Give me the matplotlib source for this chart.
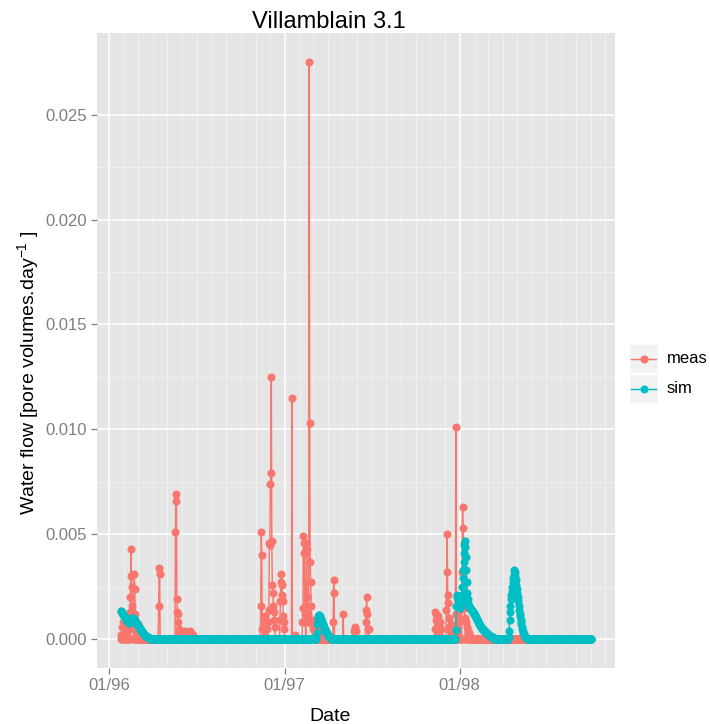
import matplotlib
matplotlib.use("Agg")
import matplotlib.pyplot as plt
import matplotlib.dates as mdates
from matplotlib.patches import Rectangle
from matplotlib.lines import Line2D
import pandas as pd

plt.rcParams['font.family'] = ['Liberation Sans', 'DejaVu Sans']
plt.rcParams['mathtext.fontset'] = 'custom'
plt.rcParams['mathtext.rm'] = 'Liberation Sans'
plt.rcParams['mathtext.it'] = 'Liberation Sans:italic'

# ---- data -------------------------------------------------------------
first_day = "1996-01-25"
last_day = "1998-10-03"

# measured daily flow (days not listed are zero)
meas_dates = [
    "1996-01-25", "1996-01-27", "1996-01-29", "1996-01-31", "1996-02-02", "1996-02-04",
    "1996-02-07", "1996-02-10", "1996-02-13", "1996-02-14", "1996-02-15", "1996-02-16",
    "1996-02-17", "1996-02-18", "1996-02-19", "1996-02-22", "1996-02-23", "1996-02-24",
    "1996-02-25", "1996-02-28", "1996-03-01", "1996-03-03", "1996-03-05",
    "1996-04-13", "1996-04-14", "1996-04-15",
    "1996-05-18", "1996-05-19", "1996-05-20", "1996-05-21", "1996-05-22", "1996-05-23",
    "1996-05-24", "1996-05-25", "1996-05-26",
    "1996-06-03", "1996-06-05", "1996-06-07", "1996-06-09", "1996-06-12", "1996-06-15",
    "1996-06-18", "1996-06-20", "1996-06-23",
    "1996-11-12", "1996-11-13", "1996-11-14", "1996-11-15", "1996-11-18", "1996-11-20",
    "1996-11-22", "1996-11-24", "1996-11-28", "1996-11-29", "1996-11-30", "1996-12-01",
    "1996-12-02", "1996-12-03", "1996-12-04", "1996-12-05", "1996-12-06", "1996-12-07",
    "1996-12-08", "1996-12-09", "1996-12-10", "1996-12-11",
    "1996-12-22", "1996-12-23", "1996-12-24", "1996-12-25", "1996-12-26", "1996-12-27",
    "1996-12-28", "1996-12-29", "1996-12-30", "1996-12-31",
    "1997-01-16", "1997-01-22",
    "1997-02-07", "1997-02-08", "1997-02-09", "1997-02-10", "1997-02-11", "1997-02-12",
    "1997-02-13", "1997-02-15", "1997-02-16", "1997-02-17", "1997-02-18", "1997-02-19",
    "1997-02-20", "1997-02-21", "1997-02-22", "1997-02-23", "1997-02-24", "1997-02-25",
    "1997-02-26", "1997-02-27", "1997-03-01", "1997-03-03", "1997-03-05", "1997-03-08",
    "1997-03-12", "1997-03-15",
    "1997-04-12", "1997-04-13", "1997-04-14", "1997-05-03",
    "1997-05-25", "1997-05-27", "1997-05-29",
    "1997-06-19", "1997-06-20", "1997-06-21", "1997-06-22", "1997-06-23", "1997-06-25",
    "1997-11-10", "1997-11-11", "1997-11-12", "1997-11-13", "1997-11-14", "1997-11-16",
    "1997-11-17", "1997-11-19", "1997-11-21", "1997-11-22",
    "1997-12-04", "1997-12-05", "1997-12-06", "1997-12-07", "1997-12-08", "1997-12-09",
    "1997-12-10", "1997-12-12", "1997-12-14", "1997-12-16",
    "1997-12-24", "1997-12-25", "1997-12-27", "1997-12-29", "1997-12-31",
    "1998-01-02", "1998-01-04", "1998-01-06", "1998-01-07", "1998-01-08", "1998-01-09",
    "1998-01-10", "1998-01-11", "1998-01-12", "1998-01-14", "1998-01-16", "1998-01-18",
    "1998-01-20",
]
meas_values = [
    0.0002, 0.0006, 0.0008, 0.0005, 0.0007, 0.0003,
    0.0002, 0.0005, 0.0013, 0.0020, 0.0043, 0.0030,
    0.0025, 0.0016, 0.0006, 0.0031, 0.0024, 0.0012,
    0.0005, 0.0004, 0.0007, 0.0005, 0.0002,
    0.0016, 0.0034, 0.0031,
    0.0051, 0.0069, 0.0066, 0.0019, 0.0013, 0.0012,
    0.0008, 0.0005, 0.0003,
    0.0002, 0.0003, 0.0004, 0.0003, 0.0002, 0.0003,
    0.0004, 0.0003, 0.0002,
    0.0016, 0.0051, 0.0040, 0.0005, 0.0006, 0.0011,
    0.0008, 0.0005, 0.0008, 0.0014, 0.0046, 0.0045,
    0.0074, 0.0079, 0.0125, 0.0047, 0.0026, 0.0022,
    0.0016, 0.0013, 0.0009, 0.0006,
    0.0009, 0.0018, 0.0031, 0.0027, 0.0026, 0.0021,
    0.0018, 0.0011, 0.0008, 0.0005,
    0.0115, 0.0002,
    0.0008, 0.0015, 0.0049, 0.0046, 0.0041, 0.0012,
    0.0008, 0.0046, 0.0043, 0.0020, 0.0012, 0.0008,
    0.0009, 0.0275, 0.0103, 0.0037, 0.0027, 0.0016,
    0.0009, 0.0007, 0.0005, 0.0006, 0.0004, 0.0003,
    0.0004, 0.0003,
    0.0008, 0.0028, 0.0022, 0.0012,
    0.0004, 0.0006, 0.0004,
    0.0008, 0.0014, 0.0020, 0.0012, 0.0005, 0.0005,
    0.0005, 0.0013, 0.0012, 0.0009, 0.0004, 0.0011,
    0.0007, 0.0003, 0.0008, 0.0005,
    0.0014, 0.0032, 0.0050, 0.0021, 0.0017, 0.0010,
    0.0006, 0.0004, 0.0007, 0.0004,
    0.0101, 0.0012, 0.0012, 0.0018, 0.0008,
    0.0014, 0.0009, 0.0032, 0.0063, 0.0053, 0.0046,
    0.0020, 0.0015, 0.0010, 0.0008, 0.0006, 0.0004,
    0.0003,
]

# simulated daily flow: consecutive days from each start date (zero elsewhere)
sim_1996_start = "1996-01-25"
sim_1996 = [
    0.00136, 0.00132, 0.00128, 0.00124, 0.00120, 0.00116, 0.00112, 0.00108, 0.00104,
    0.00100, 0.00096, 0.00092, 0.00089, 0.00086, 0.00083, 0.00080, 0.00077,
    0.00078, 0.00080, 0.00083, 0.00087, 0.00091, 0.00095, 0.00098, 0.00100, 0.00101,
    0.00100, 0.00097, 0.00094, 0.00090, 0.00086, 0.00082, 0.00078, 0.00074, 0.00070,
    0.00066, 0.00062, 0.00058, 0.00055, 0.00052, 0.00049, 0.00046, 0.00043, 0.00040,
    0.00037, 0.00034, 0.00031, 0.00028, 0.00025, 0.00022, 0.00020, 0.00018, 0.00016,
    0.00014, 0.00012, 0.00010, 0.00008, 0.00007, 0.00006, 0.00005, 0.00004, 0.00003,
    0.00002, 0.00001,
]
sim_1997_start = "1997-03-08"
sim_1997 = [
    0.00005, 0.00030, 0.00070, 0.00100, 0.00112, 0.00116, 0.00113, 0.00108, 0.00102,
    0.00096, 0.00090, 0.00084, 0.00078, 0.00072, 0.00066, 0.00060, 0.00055, 0.00050,
    0.00045, 0.00040, 0.00036, 0.00032, 0.00028, 0.00024, 0.00020, 0.00017, 0.00014,
    0.00011, 0.00008, 0.00006, 0.00004, 0.00002, 0.00001,
]
sim_1998a_start = "1997-12-24"
sim_1998a = [
    0.00044, 0.00160, 0.00200, 0.00210, 0.00200, 0.00190, 0.00180, 0.00170, 0.00160,
    0.00150, 0.00160, 0.00180, 0.00210, 0.00250, 0.00290, 0.00330, 0.00370, 0.00410,
    0.00450, 0.00470, 0.00440, 0.00390, 0.00330, 0.00270, 0.00220, 0.00190, 0.00170,
    0.00158, 0.00154, 0.00150, 0.00147, 0.00144, 0.00141, 0.00138, 0.00135,
    0.00131, 0.00127, 0.00123, 0.00119, 0.00115, 0.00112, 0.00109,
    0.00104, 0.00099, 0.00094, 0.00089, 0.00085, 0.00080, 0.00076,
    0.00072, 0.00068, 0.00064, 0.00060, 0.00057, 0.00053, 0.00050,
    0.00047, 0.00045, 0.00042, 0.00040, 0.00037, 0.00035, 0.00033,
    0.00031, 0.00029, 0.00027, 0.00025, 0.00023, 0.00021, 0.00020,
    0.00018, 0.00017, 0.00015, 0.00014, 0.00012, 0.00011, 0.00010,
    0.00008, 0.00006, 0.00005, 0.00003, 0.00002, 0.00001,
]
sim_1998b_start = "1998-04-13"
sim_1998b = [
    0.00010, 0.00040, 0.00090, 0.00130, 0.00160, 0.00190, 0.00210, 0.00230, 0.00250,
    0.00270, 0.00290, 0.00310, 0.00330, 0.00320, 0.00300, 0.00280, 0.00260, 0.00240,
    0.00220, 0.00200, 0.00180, 0.00160, 0.00140, 0.00120, 0.00110, 0.00090, 0.00080,
    0.00070, 0.00060, 0.00050, 0.00040, 0.00030, 0.00025, 0.00020, 0.00015, 0.00010,
    0.00007, 0.00005, 0.00003, 0.00001,
]

series_labels = ["meas", "sim"]
series_colors = ["#F8766D", "#00BFC4"]

# ---- assemble daily series ---------------------------------------------
days = pd.date_range(first_day, last_day, freq="D")
meas = pd.Series(meas_values, index=pd.to_datetime(meas_dates)).reindex(days, fill_value=0.0)

sim = pd.Series(0.0, index=days)
for start, vals in [(sim_1996_start, sim_1996), (sim_1997_start, sim_1997),
                    (sim_1998a_start, sim_1998a), (sim_1998b_start, sim_1998b)]:
    idx = pd.date_range(start, periods=len(vals), freq="D")
    sim.loc[idx] = vals

# ---- figure -------------------------------------------------------------
W, H = 710, 724
fig = plt.figure(figsize=(W / 100, H / 100), dpi=100)
fig.patch.set_facecolor("white")

px_l, px_r, px_t, px_b = 97.3, 615.0, 33.3, 668.0
ax = fig.add_axes([px_l / W, 1 - px_b / H, (px_r - px_l) / W, (px_b - px_t) / H])
ax.set_facecolor("#E5E5E5")
for s in ax.spines.values():
    s.set_visible(False)

MS = 5.8
LW = 1.05
ax.plot(meas.index, meas.values, color=series_colors[0], lw=LW, marker="o",
        ms=MS, mew=0, zorder=3)
ax.plot(sim.index, sim.values, color=series_colors[1], lw=LW, marker="o",
        ms=MS, mew=0, zorder=4)

# ggplot-like expansion of 5% on both axes
t0, t1 = mdates.date2num(days[0]), mdates.date2num(days[-1])
span = t1 - t0
ax.set_xlim(t0 - 0.05 * span, t1 + 0.05 * span)
ymax = max(meas.max(), sim.max())
ax.set_ylim(-0.05 * ymax, 1.05 * ymax)

ax.xaxis.set_major_locator(mdates.YearLocator())
ax.xaxis.set_major_formatter(mdates.DateFormatter("%m/%y"))
ax.xaxis.set_minor_locator(mdates.MonthLocator())
ax.set_yticks([0, 0.005, 0.010, 0.015, 0.020, 0.025])
ax.set_yticklabels(["0.000", "0.005", "0.010", "0.015", "0.020", "0.025"])
ax.set_yticks([0.0025, 0.0075, 0.0125, 0.0175, 0.0225], minor=True)

ax.grid(which="major", color="white", lw=1.1)
ax.grid(which="minor", color="#F2F2F2", lw=0.6)
ax.set_axisbelow(True)
ax.tick_params(which="major", length=4.2, width=0.9, color="#7F7F7F",
               labelcolor="#7F7F7F", labelsize=12, pad=3)
ax.tick_params(which="minor", length=0)

# titles
fig.text(329 / W, 1 - 28 / H, "Villamblain 3.1", ha="center", va="baseline",
         fontsize=17, color="black")
fig.text(330 / W, 1 - 721 / H, "Date", ha="center", va="baseline",
         fontsize=14, color="black")
fig.text(28 / W, 1 - 373 / H, r"Water flow [pore volumes.day$^{-1}$ ]",
         ha="center", va="center", rotation=90, fontsize=14, color="black")

# legend keys
key_l, key_r = 629.3, 658.3
key_tops = [344.3, 374.3]
key_h = 29.0
for lab, col, top in zip(series_labels, series_colors, key_tops):
    fig.add_artist(Rectangle((key_l / W, 1 - (top + key_h) / H), (key_r - key_l) / W,
                             key_h / H, transform=fig.transFigure, facecolor="#F2F2F2",
                             edgecolor="white", lw=1.0))
    yc = 1 - (top + key_h / 2) / H
    fig.add_artist(Line2D([(key_l + 2) / W, (key_r - 2) / W], [yc, yc],
                          transform=fig.transFigure, color=col, lw=LW))
    fig.add_artist(Line2D([(key_l + key_r) / 2 / W], [yc], transform=fig.transFigure,
                          color=col, marker="o", ms=MS, mew=0, lw=0))
    fig.text(666.5 / W, yc, lab, ha="left", va="center", fontsize=12, color="black")

fig.savefig("out.png", dpi=100, facecolor="white")
